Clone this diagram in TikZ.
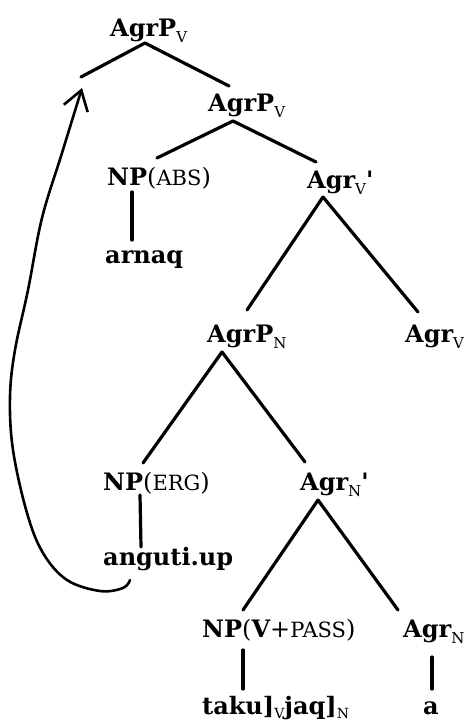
\documentclass[tikz,border=0pt]{standalone}
\usepackage{fontspec}
\setmainfont{DejaVu Serif}
\usetikzlibrary{arrows.meta}
\newcommand{\sbs}[1]{\raisebox{-6pt}{\mdseries\fontsize{15}{15}\selectfont #1}}
\newcommand{\sbt}[1]{\raisebox{-4pt}{\mdseries\fontsize{14}{14}\selectfont #1}}
\newcommand{\fsc}[1]{{\mdseries\fontsize{21}{21}\selectfont #1}}
\newcommand{\pl}[1]{{\mdseries #1}}
\begin{document}
\begin{tikzpicture}[x=1pt,y=-1pt,
  lab/.style={anchor=base west, inner sep=0pt, font=\fontsize{24}{28}\selectfont\bfseries},
  branch/.style={line width=3.2pt, line cap=round},
  mv/.style={line width=2.6pt, line cap=round, -{Straight Barb[length=19pt,width=25pt]}}]
\useasboundingbox (0,0) rectangle (471,726);
% nodes
\node[lab] (top) at (110,36) {AgrP\sbs{V}};
\node[lab] (agrpv) at (208,111) {AgrP\sbs{V}};
\node[lab] (npabs) at (107,185) {NP\pl{(}\fsc{ABS}\pl{)}};
\node[lab] (arnaq) at (105,263) {arnaq};
\node[lab] (agrvbar) at (307,188) {Agr\sbs{V}\textquotesingle};
\node[lab] (agrpn) at (207,342) {AgrP\sbs{N}};
\node[lab] (agrv) at (405,342) {Agr\sbs{V}};
\node[lab] (nperg) at (103,490) {NP\pl{(}\fsc{ERG}\pl{)}};
\node[lab] (anguti) at (103,565) {anguti.up};
\node[lab] (agrnbar) at (300,490) {Agr\sbs{N}\textquotesingle};
\node[lab] (nppass) at (202,637) {NP\pl{(}V\pl{+}\fsc{PASS}\pl{)}};
\node[lab] (agrn) at (403,637) {Agr\sbs{N}};
\node[lab] (taku) at (202,714) {taku]\sbt{V}jaq]\sbt{N}};
\node[lab] (a) at (423,714) {a};
\coordinate (gap) at (81,77);
% branches
\draw[branch] ([shift={(35,7)}]top.base west) -- (gap);
\draw[branch] ([shift={(35,7)}]top.base west) -- ([shift={(21,-25)}]agrpv.base west);
\draw[branch] ([shift={(25,10)}]agrpv.base west) -- ([shift={(50,-27)}]npabs.base west);
\draw[branch] ([shift={(25,10)}]agrpv.base west) -- ([shift={(9,-26)}]agrvbar.base west);
\draw[branch] ([shift={(25,7)}]npabs.base west) -- ([shift={(27,-23)}]arnaq.base west);
\draw[branch] ([shift={(16,9)}]agrvbar.base west) -- ([shift={(40,-32)}]agrpn.base west);
\draw[branch] ([shift={(16,9)}]agrvbar.base west) -- ([shift={(13,-30)}]agrv.base west);
\draw[branch] ([shift={(15,10)}]agrpn.base west) -- ([shift={(40,-27)}]nperg.base west);
\draw[branch] ([shift={(15,10)}]agrpn.base west) -- ([shift={(5,-28)}]agrnbar.base west);
\draw[branch] ([shift={(37,5)}]nperg.base west) -- ([shift={(38,-18)}]anguti.base west);
\draw[branch] ([shift={(18,10)}]agrnbar.base west) -- ([shift={(41,-27)}]nppass.base west);
\draw[branch] ([shift={(18,10)}]agrnbar.base west) -- ([shift={(-5,-27)}]agrn.base west);
\draw[branch] ([shift={(41,13)}]nppass.base west) -- ([shift={(41,-25)}]taku.base west);
\draw[branch] ([shift={(29,20)}]agrn.base west) -- ([shift={(9,-25)}]a.base west);
% movement arrow
\coordinate (mvstart) at ([shift={(27,15)}]anguti.base west);
\coordinate (mvend) at ([shift={(1,11)}]gap);
\draw[mv] plot[smooth, tension=0.6] coordinates {(mvstart) (123,588) (100,591) (67,580) (43,553) (27,513) (13,450) (10,397) (15,350) (28,290) (42,218) (62,153) (mvend)};
\end{tikzpicture}
\end{document}
